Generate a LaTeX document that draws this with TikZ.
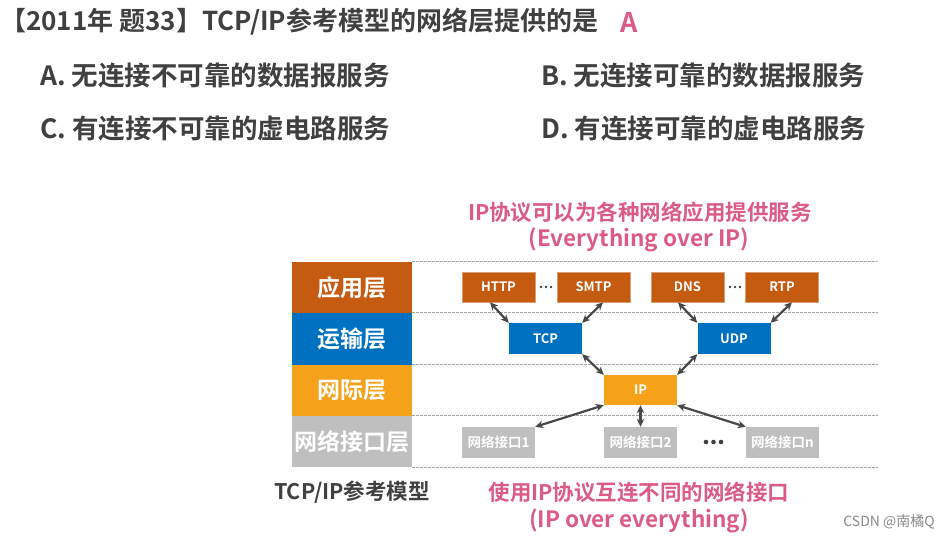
\documentclass[tikz,border=0pt]{standalone}
\usepackage{fontspec}
\setmainfont{Noto Sans CJK SC}[BoldFont={Noto Sans CJK SC Bold}]
\usetikzlibrary{arrows.meta}
\definecolor{txt}{HTML}{404040}
\definecolor{pinkc}{HTML}{DC5A86}
\definecolor{appc}{HTML}{C55A11}
\definecolor{trc}{HTML}{0070C0}
\definecolor{ipc}{HTML}{F5A11A}
\definecolor{nic}{HTML}{BFBFBF}
\definecolor{arr}{HTML}{484848}
\definecolor{dashc}{HTML}{A6A6A6}
\definecolor{csdn}{HTML}{8A8A8A}
\tikzset{
  fs/.style={font=\fontsize{#1}{#1}\selectfont\bfseries},
  title/.style={inner sep=0pt, text=txt, fs=26},
  opt/.style={inner sep=0pt, text=txt, fs=26.5},
  pinktxt/.style={inner sep=0pt, text=pinkc, fs=21.5},
  pinklat/.style={inner sep=0pt, text=pinkc, fs=22.5},
  layer/.style={inner sep=0pt, minimum width=120pt, text=white, fs=23},
  pbox/.style={inner sep=0pt, minimum width=73pt, text=white, fs=13},
  nibox/.style={pbox, fill=nic, minimum height=31pt, fs=13.5},
  dashline/.style={dashc, dash pattern=on 2.5pt off 1.5pt, line width=0.8pt},
  biarrow/.style={arr, line width=2.2pt, {Stealth[length=8pt,width=7.5pt]}-{Stealth[length=8pt,width=7.5pt]}},
  dotgroup/.style={inner sep=0pt, minimum width=14pt, minimum height=4pt}
}
\begin{document}
\begin{tikzpicture}[x=1pt,y=-1pt]
\useasboundingbox[fill=white] (0,0) rectangle (949,539);
% title and options
\node[title, anchor=west] (t) at (0,22) {【2011年 题33】TCP/IP参考模型的网络层提供的是};
\node[inner sep=0pt, text=pinkc, fs=27] (ans) at (629,22) {A};
\node[opt, anchor=west] (oa) at (40,76) {A. 无连接不可靠的数据报服务};
\node[opt, anchor=west] (ob) at (541,76) {B. 无连接可靠的数据报服务};
\node[opt, anchor=west] (oc) at (40,129) {C. 有连接不可靠的虚电路服务};
\node[opt, anchor=west] (od) at (541,129) {D. 有连接可靠的虚电路服务};
% pink captions
\node[pinktxt] (p1) at (640,212) {IP协议可以为各种网络应用提供服务};
\node[pinklat] (p2) at (639,240) {(Everything over IP)};
\node[pinktxt] (p3) at (639,492) {使用IP协议互连不同的网络接口};
\node[pinklat] (p4) at (639,521) {(IP over everything)};
\node[inner sep=0pt, text=txt, fs=21.5] (model) at (352,492) {TCP/IP参考模型};
\node[inner sep=0pt, text=csdn, font=\fontsize{14}{14}\selectfont, anchor=east] (csdn) at (935,522) {CSDN @南橘Q};
% layers
\node[layer, fill=appc, minimum height=51pt] (lapp) at (352,287.5) {应用层};
\node[layer, fill=trc, minimum height=52pt] (ltr) at (352,339) {运输层};
\node[layer, fill=ipc, minimum height=51pt] (lip) at (352,390.5) {网际层};
\node[layer, fill=nic, minimum height=51pt] (lni) at (352,441.5) {网络接口层};
% dashed lines
\coordinate (e) at (878,0);
\draw[dashline] (lapp.north east) -- (lapp.north east -| e);
\draw[dashline] (ltr.north east) -- (ltr.north east -| e);
\draw[dashline] (lip.north east) -- (lip.north east -| e);
\draw[dashline] (lni.north east) -- (lni.north east -| e);
\draw[dashline] (lni.south east) -- (lni.south east -| e);
% protocol boxes
\node[pbox, fill=appc, draw=appc!60!white, line width=0.6pt, minimum height=30pt] (http) at (498.5,287) {HTTP};
\node[pbox, fill=appc, draw=appc!60!white, line width=0.6pt, minimum height=30pt] (smtp) at (593.5,287) {SMTP};
\node[pbox, fill=appc, draw=appc!60!white, line width=0.6pt, minimum height=30pt] (dns) at (687.5,287) {DNS};
\node[pbox, fill=appc, draw=appc!60!white, line width=0.6pt, minimum height=30pt] (rtp) at (782,287) {RTP};
\node[pbox, fill=trc, minimum height=31pt] (tcp) at (545.5,338.5) {TCP};
\node[pbox, fill=trc, minimum height=31pt] (udp) at (734,338.5) {UDP};
\node[pbox, fill=ipc, minimum height=30pt] (ip) at (640.5,390) {IP};
\node[nibox] (ni1) at (498.5,442.5) {网络接口1};
\node[nibox] (ni2) at (640.5,442.5) {网络接口2};
\node[nibox] (nin) at (782.5,442.5) {网络接口n};
% ellipsis dots
\node[dotgroup] (d1) at (546,287) {};
\node[dotgroup] (d2) at (735,287) {};
\node[dotgroup] (d3) at (713.5,442) {};
\foreach \n in {d1,d2} \foreach \dx in {-5,0,5} \fill[txt] ([xshift=\dx pt]\n.center) circle (1.3pt);
\foreach \dx in {-7.5,0,7.5} \fill[txt] ([xshift=\dx pt]d3.center) circle (2.3pt);
% arrows
\draw[biarrow] ([xshift=-8.5pt]http.south) -- (tcp.north west);
\draw[biarrow] ([xshift=9.5pt]smtp.south) -- (tcp.north east);
\draw[biarrow] ([xshift=-9.5pt]dns.south) -- (udp.north west);
\draw[biarrow] ([xshift=10pt]rtp.south) -- (udp.north east);
\draw[biarrow] (tcp.south east) -- (ip.north west);
\draw[biarrow] (udp.south west) -- (ip.north east);
\draw[biarrow] (ip.south west) -- (ni1.north east);
\draw[biarrow] (ip.south) -- (ni2.north);
\draw[biarrow] (ip.south east) -- (nin.north west);
\end{tikzpicture}
\end{document}
